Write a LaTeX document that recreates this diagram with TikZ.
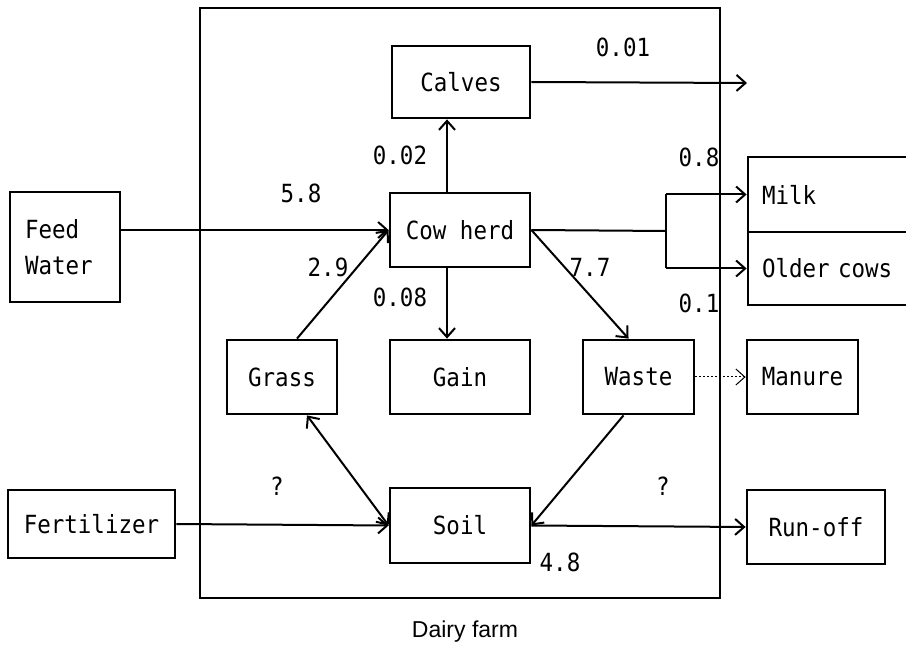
\documentclass[tikz,border=0pt]{standalone}
\usepackage{fontspec}
\setmainfont{Liberation Sans}
\newfontfamily\boxfont[FakeStretch=0.9]{DejaVu Sans Mono}
\usetikzlibrary{arrows.meta,positioning}

\begin{document}
\begin{tikzpicture}[x=1pt,y=-1pt,
   >={Straight Barb[length=9pt,width=16pt]},
   b/.style={draw,line width=2.8pt,inner sep=0pt,font=\boxfont\fontsize{25}{36}\selectfont},
   v/.style={inner sep=0pt,font=\boxfont\fontsize{25}{30}\selectfont},
   a/.style={->,line width=2pt}]
  \useasboundingbox (0,0) rectangle (906,647);
  % system boundary
  \draw[line width=1.2pt] (200,8) rectangle (720,598);
  \node[font=\fontsize{23}{28}\selectfont] (farm) at (465,632) {Dairy farm};
  % boxes
  \node[b,minimum width=138pt,minimum height=72pt] (calves) at (461,82) {Calves};
  \node[b,minimum width=140pt,minimum height=74pt] (herd) at (460,230) {Cow herd};
  \node[b,text width=80pt,inner xsep=15pt,minimum height=110pt,align=left] (feed) at (65,247) {Feed\\Water};
  \node[b,minimum width=110pt,minimum height=74pt] (grass) at (282,377) {Grass};
  \node[b,minimum width=140pt,minimum height=74pt] (gain) at (460,377) {Gain};
  \node[b,minimum width=111pt,minimum height=74pt] (waste) at (638.5,377) {Waste};
  \node[b,minimum width=111pt,minimum height=74pt] (manure) at (802.5,377) {Manure};
  \node[b,minimum width=140pt,minimum height=75pt] (soil) at (460,525.5) {Soil};
  \node[b,minimum width=167pt,minimum height=68pt] (fert) at (91.5,524) {Fertilizer};
  \node[b,minimum width=138pt,minimum height=74pt] (runoff) at (816,527) {Run-off};
  \node[b,text width=144pt,inner xsep=14pt,minimum height=75pt,align=left] (milk) at (834,194.5) {Milk};
  \node[b,text width=144pt,inner xsep=14pt,minimum height=73pt,align=left] (older) at (834,268.5) {Older cows};
  % flows
  \node[v] (qcalf) at (623,47) {0.01};
  \node[v] (qup) at (400,155) {0.02};
  \node[v] (qmilk) at (699,157) {0.8};
  \node[v] (qfeed) at (301,193) {5.8};
  \node[v] (qgrass) at (328,267) {2.9};
  \node[v] (qwaste) at (590,267) {7.7};
  \node[v] (qgain) at (400,297) {0.08};
  \node[v] (qold) at (699,303) {0.1};
  \node[v] (qfert) at (277,486) {?};
  \node[v] (qrun) at (663,486) {?};
  \node[v] (qsoil) at (560,562) {4.8};
  \coordinate (calfend) at (747,83);
  \coordinate (split) at (666,231);
  \draw[a] (calves.east) -- (calfend);
  \draw[a] ([xshift=-13pt]herd.north) -- ([xshift=-13pt]herd.north |- calves.south);
  \draw[a] (feed.east |- herd.west) -- (herd.west);
  \draw[a] ([xshift=15pt]grass.north) -- (herd.west);
  \draw[a] ([xshift=-13pt]herd.south) -- ([xshift=-13pt]herd.south |- gain.north);
  \draw[a] (herd.east) -- ([xshift=-10pt]waste.north);
  \draw[line width=2pt] (herd.east) -- (split);
  \draw[line width=2pt] (split |- milk.west) -- (split |- older.west);
  \draw[a] (split |- milk.west) -- (milk.west);
  \draw[a] (split |- older.west) -- (older.west);
  \draw[a,dotted,line width=1pt] (waste.east) -- (manure.west);
  \draw[a,<->] ([xshift=25pt]grass.south) -- (soil.west);
  \draw[a] (fert.east) -- (soil.west);
  \draw[a] ([xshift=-15pt]waste.south) -- (soil.east);
  \draw[a] (soil.east) -- (runoff.west);
\end{tikzpicture}
\end{document}
